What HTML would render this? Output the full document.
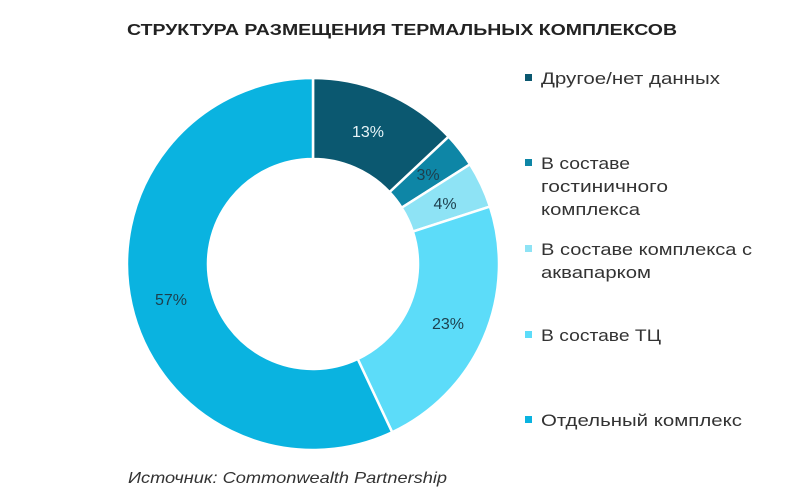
<!DOCTYPE html>
<html><head><meta charset="utf-8"><style>
body{margin:0;width:800px;height:498px;background:#fff;overflow:hidden;font-family:"Liberation Sans",sans-serif}
</style></head><body>
<svg width="800" height="498" xmlns="http://www.w3.org/2000/svg">
<text x="127" y="35" textLength="550" lengthAdjust="spacingAndGlyphs" font-family="Liberation Sans, sans-serif" font-weight="bold" font-size="16" fill="#222">СТРУКТУРА РАЗМЕЩЕНИЯ ТЕРМАЛЬНЫХ КОМПЛЕКСОВ</text>
<g stroke="#fff" stroke-width="2.5" id="d"></g>
<g font-family="Liberation Sans, sans-serif" font-size="16" fill="#1d3f4d" text-anchor="middle">
<text x="368" y="137" fill="#e8f4f8">13%</text>
<text x="428" y="180">3%</text>
<text x="445" y="209">4%</text>
<text x="448" y="329">23%</text>
<text x="171" y="305">57%</text>
</g>
<g font-family="Liberation Sans, sans-serif" font-size="16.5" fill="#333" lengthAdjust="spacingAndGlyphs">
<rect x="525" y="74" width="7" height="7" fill="#0b5870"/><text x="541" y="84" textLength="179" lengthAdjust="spacingAndGlyphs">Другое/нет данных</text>
<rect x="525" y="159" width="7" height="7" fill="#0e86a6"/><text x="541" y="169" textLength="89" lengthAdjust="spacingAndGlyphs">В составе</text><text x="541" y="192" textLength="127" lengthAdjust="spacingAndGlyphs">гостиничного</text><text x="541" y="215" textLength="99" lengthAdjust="spacingAndGlyphs">комплекса</text>
<rect x="525" y="245" width="7" height="7" fill="#8ee3f5"/><text x="541" y="255" textLength="211" lengthAdjust="spacingAndGlyphs">В составе комплекса с</text><text x="541" y="278" textLength="110" lengthAdjust="spacingAndGlyphs">аквапарком</text>
<rect x="525" y="331" width="7" height="7" fill="#5cdcf9"/><text x="541" y="341" textLength="120" lengthAdjust="spacingAndGlyphs">В составе ТЦ</text>
<rect x="525" y="416" width="7" height="7" fill="#0ab3e0"/><text x="541" y="426" textLength="201" lengthAdjust="spacingAndGlyphs">Отдельный комплекс</text>
</g>
<text x="128" y="483" textLength="319" lengthAdjust="spacingAndGlyphs" font-family="Liberation Sans, sans-serif" font-style="italic" font-size="16" fill="#333">Источник: Commonwealth Partnership</text>
</svg>
<script>
var cx=313,cy=264,R=186,r=105,vals=[13,3,4,23,57],cols=["#0b5870","#0e86a6","#8ee3f5","#5cdcf9","#0ab3e0"],a=0,g=document.getElementById("d"),s="";
function p(rad,ang){return [cx+rad*Math.sin(ang),cy-rad*Math.cos(ang)];}
vals.forEach(function(v,i){var a0=a/100*2*Math.PI;a+=v;var a1=a/100*2*Math.PI;var L=(v>50)?1:0;
var o0=p(R,a0),o1=p(R,a1),i1=p(r,a1),i0=p(r,a0);
s+='<path fill="'+cols[i]+'" d="M'+o0+' A'+R+' '+R+' 0 '+L+' 1 '+o1+' L'+i1+' A'+r+' '+r+' 0 '+L+' 0 '+i0+' Z"/>';});
g.innerHTML=s;
</script>
</body></html>
